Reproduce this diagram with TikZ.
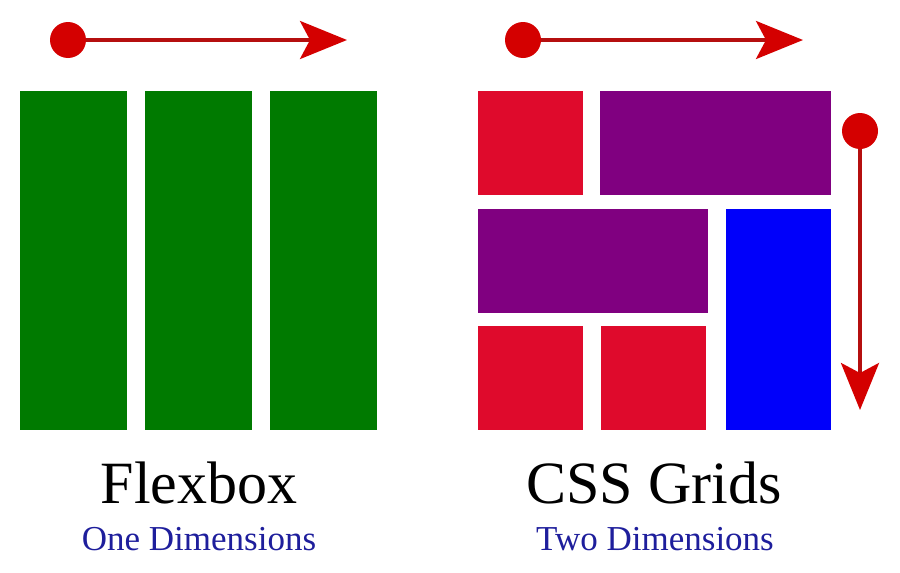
\documentclass[tikz,border=0pt]{standalone}
\usepackage{fontspec}
\setmainfont{Liberation Serif}
\usetikzlibrary{arrows.meta}

\definecolor{barGreen}{HTML}{007A00}
\definecolor{cellRed}{HTML}{DF0A2C}
\definecolor{cellPurple}{HTML}{800080}
\definecolor{cellBlue}{HTML}{0000FA}
\definecolor{dotRed}{HTML}{D40000}
\definecolor{lineRed}{HTML}{B50F0F}
\definecolor{subBlue}{HTML}{1E1E9C}

\tikzset{
    dot/.style={circle, fill=dotRed, inner sep=0pt, minimum size=36pt},
    flow/.style={draw=lineRed, line width=3.5pt, -{Stealth[length=47pt, width=38pt, inset=10pt, color=dotRed]}},
    title/.style={font=\fontsize{60}{60}\selectfont, anchor=base},
    subtitle/.style={font=\fontsize{35}{35}\selectfont, text=subBlue, anchor=base}
}

\begin{document}
\begin{tikzpicture}[x=1pt, y=-1pt]
    \useasboundingbox (0,0) rectangle (900,573);

    % Flexbox: one row of columns
    \foreach \x in {20, 145, 270}
        \fill[barGreen] (\x,91) rectangle ++(107,339);

    \node[dot] (rowdotA) at (68,40) {};
    \coordinate (rowendA) at (347,40);
    \draw[flow] (rowdotA) -- (rowendA);

    % Grid: cells across rows and columns
    \fill[cellRed] (478,91) rectangle (583,195);
    \fill[cellPurple] (600,91) rectangle (831,195);
    \fill[cellPurple] (478,209) rectangle (708,313);
    \fill[cellBlue] (726,209) rectangle (831,430);
    \fill[cellRed] (478,326) rectangle (583,430);
    \fill[cellRed] (601,326) rectangle (706,430);

    \node[dot] (rowdotB) at (523,40) {};
    \coordinate (rowendB) at (803,40);
    \draw[flow] (rowdotB) -- (rowendB);

    \node[dot] (coldot) at (860,131) {};
    \coordinate (colend) at (860,410);
    \draw[flow] (coldot) -- (colend);

    % Labels
    \node[title] (flexbox) at (199,503) {Flexbox};
    \node[subtitle] (onedim) at (199,550) {One Dimensions};
    \node[title] (cssgrids) at (654,503) {CSS Grids};
    \node[subtitle] (twodim) at (655,550) {Two Dimensions};
\end{tikzpicture}
\end{document}
